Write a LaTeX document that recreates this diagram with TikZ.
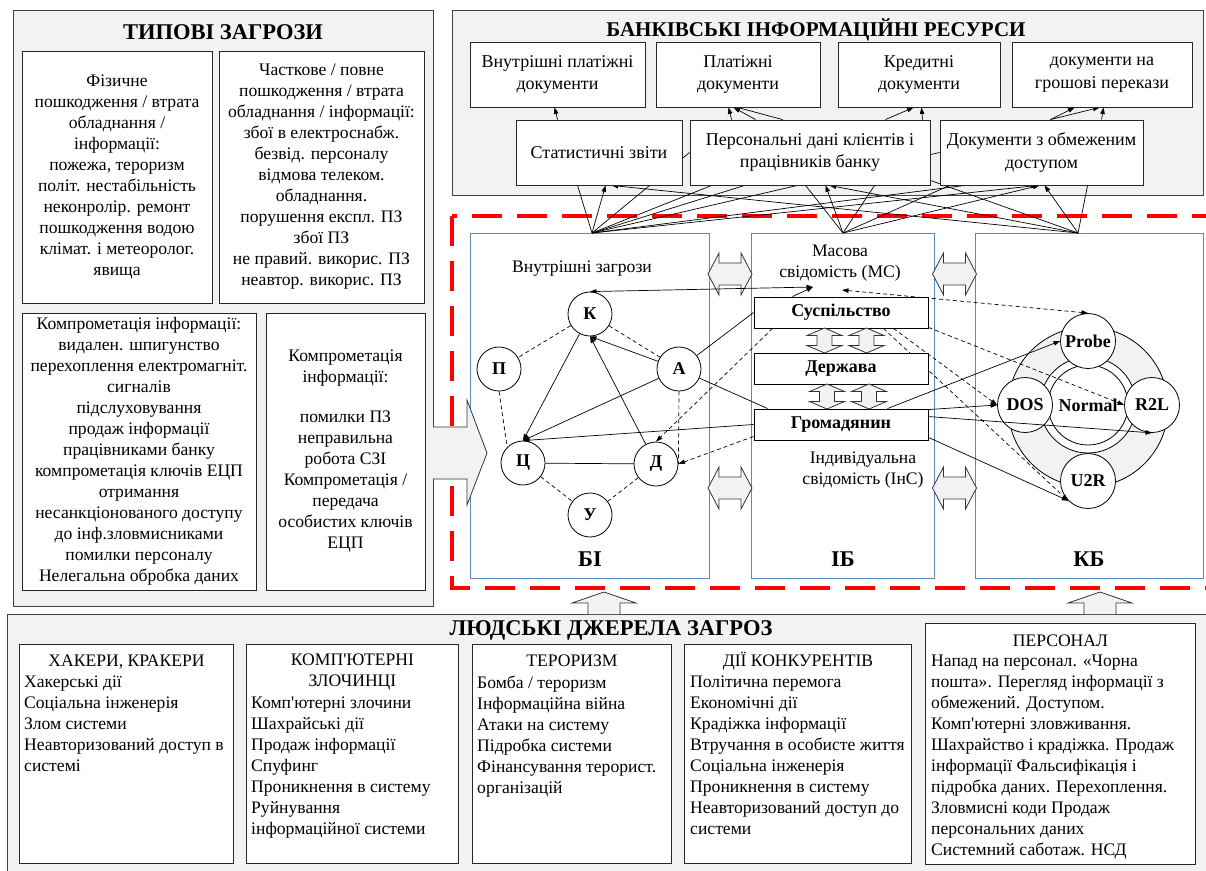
\documentclass[tikz,border=0pt]{standalone}
\usepackage{fontspec}
\setmainfont{Liberation Serif}[Ligatures=TeXOff]
\usetikzlibrary{arrows.meta}
\definecolor{bgray}{HTML}{F2F2F2}
\definecolor{pblue}{RGB}{95,135,185}
\newcommand{\txtf}{\fontsize{17.6}{21}\selectfont}
\newcommand{\topf}{\fontsize{18}{22.5}\selectfont}
\newcommand{\boldt}{\fontsize{22.5}{26}\selectfont\bfseries}
\newcommand{\boldr}{\fontsize{21}{26}\selectfont\bfseries}
\newcommand{\cirf}{\fontsize{18}{20}\selectfont\bfseries}
\pgfdeclarelayer{back}
\pgfdeclarelayer{conn}
\pgfsetlayers{back,conn,main}
\tikzset{
 graybox/.style={draw=black!75, fill=bgray, line width=1pt, inner sep=0pt},
 wbox/.style={draw=black!85, fill=white, line width=0.9pt, inner sep=0pt},
 panel/.style={draw=pblue, line width=0.9pt, inner sep=0pt},
 cnode/.style={circle, draw, fill=white, line width=0.8pt, minimum size=44pt, inner sep=0pt, font=\cirf},
 knode/.style={circle, draw, fill=white, line width=0.8pt, minimum size=55pt, inner sep=0pt, font=\cirf},
 ibbox/.style={draw, fill=white, line width=0.9pt, minimum width=174pt, minimum height=31pt, inner sep=0pt, font=\cirf},
 ln/.style={line width=0.7pt},
 arr/.style={line width=0.7pt, -{Triangle[length=6.5pt,width=4.5pt]}},
 dsh/.style={line width=0.7pt, dash pattern=on 4pt off 3pt},
 fatarr/.style={draw=black!80, fill=bgray, line width=0.8pt},
 hdbl/.pic={\draw[fatarr] (-22,0) -- (-11,-21) -- (-11,-11) -- (11,-11) -- (11,-21) -- (22,0) -- (11,21) -- (11,11) -- (-11,11) -- (-11,21) -- cycle;},
 vdbl/.pic={\draw[fatarr] (0,-12.5) -- (17.5,-5) -- (7.5,-5) -- (7.5,5) -- (17.5,5) -- (0,12.5) -- (-17.5,5) -- (-7.5,5) -- (-7.5,-5) -- (-17.5,-5) -- cycle;},
 uparr/.pic={\fill[bgray] (-16,22) -- (-16,11) -- (-32,11) -- (0,0) -- (32,11) -- (16,11) -- (16,22) -- cycle;
   \draw[black!80, line width=0.8pt] (-16,22) -- (-16,11) -- (-32,11) -- (0,0) -- (32,11) -- (16,11) -- (16,22);},
}
\begin{document}
\begin{tikzpicture}[x=1pt,y=-1pt]
\useasboundingbox (0,0) rectangle (1206,870);
\clip (0,0) rectangle (1206,870);

% ---------------- background layer ----------------
\begin{pgfonlayer}{back}
\node[graybox, minimum width=420, minimum height=596, anchor=north west] (tl) at (13,10) {};
\node[graybox, minimum width=751, minimum height=185, anchor=north west] (tr) at (452,10) {};
\node[graybox, minimum width=1215, minimum height=270, anchor=north west] (bt) at (7,614) {};
\pic at (604,592) {uparr};
\pic at (1100,592) {uparr};
\draw[red, line width=4pt, dash pattern=on 30pt off 15pt] (452,216) -- (452,588) -- (1230,588) -- (1230,216) -- cycle;
\node[panel, minimum width=239, minimum height=345, anchor=north west] (bi) at (470,233) {};
\node[panel, minimum width=183, minimum height=345, anchor=north west] (ibp) at (751,233) {};
\node[panel, minimum width=228, minimum height=345, anchor=north west] (kbp) at (975,233) {};
\pic at (730,274) {hdbl};
\pic at (730,488) {hdbl};
\pic at (954.5,274) {hdbl};
\pic at (954.5,488) {hdbl};
\draw[fatarr] (433,427) -- (467,427) -- (467,400) -- (487,453) -- (467,505) -- (467,479) -- (433,479);
\fill[bgray] (434,428) rectangle (467,478);
% ring
\node[circle, draw, fill=bgray, line width=0.8pt, minimum size=160pt, inner sep=0pt] (ring) at (1088,407) {};
\node[circle, draw, fill=white, line width=0.8pt, minimum size=96pt, inner sep=0pt] (ringin) at (1088,405) {};
\node[circle, draw, fill=white, line width=0.8pt, minimum size=80pt, inner sep=0pt, font=\cirf] (normal) at (1088,405) {Normal};
\node[knode] (probe) at (1088,341) {Probe};
\node[knode] (dos) at (1025,405) {DOS};
\node[knode] (r2l) at (1152,405) {R2L};
\node[knode] (u2r) at (1088,481) {U2R};
\end{pgfonlayer}

% ---------------- titles ----------------
\node[font=\boldt] (tt1) at (223,32) {ТИПОВІ ЗАГРОЗИ};
\node[font=\boldr] (tt2) at (816,30) {БАНКІВСЬКІ ІНФОРМАЦІЙНІ РЕСУРСИ};
\node[font=\boldt] (tt3) at (611,630) {ЛЮДСЬКІ ДЖЕРЕЛА ЗАГРОЗ};

% ---------------- typical threats ----------------
\node[wbox, minimum width=190, minimum height=252, align=center, font=\txtf] (f1) at (117,177)
 {Фізичне\\пошкодження / втрата\\обладнання /\\інформації:\\пожежа, тероризм\\політ. нестабільність\\неконролір. ремонт\\пошкодження водою\\клімат. і метеоролог.\\явища};
\node[wbox, minimum width=205, minimum height=252, align=center, font=\txtf] (f2) at (321.5,177)
 {Часткове / повне\\пошкодження / втрата\\обладнання / інформації:\\збої в електроснабж.\\безвід. персоналу\\відмова телеком.\\обладнання.\\порушення експл. ПЗ\\збої ПЗ\\не правий. викорис. ПЗ\\неавтор. викорис. ПЗ};
\node[wbox, minimum width=234, minimum height=277, align=center, font=\txtf] (f3) at (139,451.5)
 {Компрометація інформації:\\видален. шпигунство\\перехоплення електромагніт.\\сигналів\\підслуховування\\продаж інформації\\працівниками банку\\компрометація ключів ЕЦП\\отримання\\несанкціонованого доступу\\до інф.зловмисниками\\помилки персоналу\\Нелегальна обробка даних};
\node[wbox, minimum width=159, minimum height=277, align=center, font=\txtf] (f4) at (345.5,451.5)
 {Компрометація\\інформації:\\[19pt]помилки ПЗ\\неправильна\\робота СЗІ\\Компрометація /\\передача\\особистих ключів\\ЕЦП};

% ---------------- bank resources ----------------
\node[wbox, minimum width=175, minimum height=65, align=center, font=\topf] (t1) at (557.5,74.5) {Внутрішні платіжні\\документи};
\node[wbox, minimum width=164, minimum height=65, align=center, font=\topf] (t2) at (738,74.5) {Платіжні\\документи};
\node[wbox, minimum width=162, minimum height=65, align=center, font=\topf] (t3) at (919,74.5) {Кредитні\\документи};
\node[wbox, minimum width=180, minimum height=65, align=center, font=\topf] (t4) at (1102,74.5) {документи на\\грошові перекази};
\node[wbox, minimum width=166, minimum height=65, align=center, font=\topf] (s1) at (599,152.5) {Статистичні звіти};
\node[wbox, minimum width=240, minimum height=65, align=center, font=\topf] (s2) at (810,152.5) {Персональні дані клієнтів і\\працівників банку};
\node[wbox, minimum width=203, minimum height=65, align=center, font=\topf] (s3) at (1041.5,152.5) {Документи з обмеженим\\доступом};

% ---------------- panels content ----------------
\node[font=\txtf] (vz) at (582,269) {Внутрішні загрози};
\node[font=\txtf, align=center] (mst) at (840,263.5) {Масова\\свідомість (МС)};
\node[font=\txtf, align=center] (inst) at (863,470.5) {Індивідуальна\\свідомість (ІнС)};
\node[font=\boldt] (lbi) at (590,559) {БІ};
\node[font=\boldt] (lib) at (843,559) {ІБ};
\node[font=\boldt] (lkb) at (1089,559) {КБ};

\node[cnode] (k) at (590,314) {К};
\node[cnode] (p) at (499,369) {П};
\node[cnode] (a) at (679,369) {А};
\node[cnode] (c) at (523,463) {Ц};
\node[cnode] (d) at (656,464) {Д};
\node[cnode] (u) at (590,515) {У};

\node[ibbox] (susp) at (841,312.5) {Суспільство};
\node[ibbox] (derzh) at (841,368.5) {Держава};
\node[ibbox] (grom) at (841,424.5) {Громадянин};
\pic at (824.5,340.5) {vdbl};
\pic at (866.5,340.5) {vdbl};
\pic at (827,396.5) {vdbl};
\pic at (869,396.5) {vdbl};

% ---------------- human sources ----------------
\node[wbox, minimum width=214, minimum height=219, anchor=north west] (h1) at (19,644) {};
\node[wbox, minimum width=212, minimum height=219, anchor=north west] (h2) at (246,644) {};
\node[wbox, minimum width=199, minimum height=219, anchor=north west] (h3) at (472,644) {};
\node[wbox, minimum width=227, minimum height=219, anchor=north west] (h4) at (684,644) {};
\node[wbox, minimum width=270, minimum height=241, anchor=north west] (h5) at (925,623) {};

\node[font=\txtf, inner sep=0pt, anchor=base] (h1t) at ([yshift=-22pt]h1.north) {ХАКЕРИ, КРАКЕРИ};
\node[font=\txtf, inner sep=0pt, anchor=north west, align=left] (h1l) at ([xshift=5pt,yshift=-32pt]h1.north west)
 {Хакерські дії\\Соціальна інженерія\\Злом системи\\Неавторизований доступ в\\системі};
\node[font=\txtf, inner sep=0pt, anchor=north, align=center] (h2t) at ([yshift=-10pt]h2.north) {КОМП'ЮТЕРНІ\\ЗЛОЧИНЦІ};
\node[font=\txtf, inner sep=0pt, anchor=north west, align=left] (h2l) at ([xshift=5pt,yshift=-53pt]h2.north west)
 {Комп'ютерні злочини\\Шахрайські дії\\Продаж інформації\\Спуфинг\\Проникнення в систему\\Руйнування\\інформаційної системи};
\node[font=\txtf, inner sep=0pt, anchor=base] (h3t) at ([yshift=-22pt]h3.north) {ТЕРОРИЗМ};
\node[font=\txtf, inner sep=0pt, anchor=north west, align=left] (h3l) at ([xshift=5pt,yshift=-32pt]h3.north west)
 {Бомба / тероризм\\Інформаційна війна\\Атаки на систему\\Підробка системи\\Фінансування терорист.\\організацій};
\node[font=\txtf, inner sep=0pt, anchor=base] (h4t) at ([yshift=-22pt]h4.north) {ДІЇ КОНКУРЕНТІВ};
\node[font=\txtf, inner sep=0pt, anchor=north west, align=left] (h4l) at ([xshift=6pt,yshift=-32pt]h4.north west)
 {Політична перемога\\Економічні дії\\Крадіжка інформації\\Втручання в особисте життя\\Соціальна інженерія\\Проникнення в систему\\Неавторизований доступ до\\системи};
\node[font=\txtf, inner sep=0pt, anchor=base] (h5t) at ([yshift=-23pt]h5.north) {ПЕРСОНАЛ};
\node[font=\txtf, inner sep=0pt, anchor=north west, align=left] (h5l) at ([xshift=6pt,yshift=-32pt]h5.north west)
 {Напад на персонал. «Чорна\\пошта». Перегляд інформації з\\обмежений. Доступом.\\Комп'ютерні зловживання.\\Шахрайство і крадіжка. Продаж\\інформації Фальсифікація і\\підробка даних. Перехоплення.\\Зловмисні коди Продаж\\персональних даних\\Системний саботаж. НСД};

% ---------------- connectors ----------------
\begin{pgfonlayer}{conn}
\coordinate (a1) at (592,233);
\coordinate (a2) at (843,233);
\coordinate (a3) at (1078,233);
\coordinate (ms) at (813,287);
\coordinate (ms2) at (842,290);
% between rows
\draw[arr] ([xshift=42pt]s1.north west) -- ([xshift=85pt]t1.south west);
\draw[arr] ([xshift=42pt]s2.north west) -- ([xshift=73pt]t2.south west);
\draw[arr] ([xshift=66pt]s2.north west) -- ([xshift=78pt]t2.south west);
\draw[ln]  ([xshift=93pt]s2.north west) -- ([xshift=82pt]t2.south west);
\draw[arr] ([xshift=196pt]s2.north west) -- ([xshift=76pt]t3.south west);
\draw[arr] ([xshift=233pt]s2.north west) -- ([xshift=84pt]t3.south west);
\draw[arr] ([xshift=111pt]s3.north west) -- ([xshift=63pt]t4.south west);
\draw[arr] ([xshift=111pt]s3.north west) -- ([xshift=88pt]t4.south west);
\draw[arr] ([xshift=162pt]s3.north west) -- ([xshift=92pt]t4.south west);
% from the panels to the resources
\draw[ln]  (a1) -- ([xshift=62pt]s1.south west);
\draw[arr] (a1) -- ([xshift=90pt]s1.south west);
\draw[ln]  (a1) -- (s2.west);
\draw[ln]  (a1) -- ([xshift=22pt]s2.south west);
\draw[ln]  (a1) -- ([xshift=55pt]s2.south west);
\draw[ln]  (a1) -- (s3.west);
\draw[ln]  (a1) -- ([xshift=25pt]s3.south west);
\draw[arr] (a1) -- ([xshift=98pt]s3.south west);
\draw[ln]  (a2) -- ([xshift=116pt]s2.south west);
\draw[arr] (a2) -- ([xshift=136pt]s2.south west);
\draw[ln]  (a2) -- ([xshift=185pt]s2.south west);
\draw[ln]  (a2) -- ([xshift=10pt]s3.south west);
\draw[arr] (a2) -- ([xshift=100pt]s3.south west);
\draw[arr] (a3) -- ([xshift=96pt]s1.south west);
\draw[arr] (a3) -- ([xshift=140pt]s2.south west);
\draw[ln]  (a3) -- ([yshift=5pt]s2.south east);
\draw[arr] (a3) -- ([xshift=105pt]s3.south west);
\draw[ln]  (a3) -- ([xshift=148pt]s3.south west);
% internal threats graph
\draw[dsh] (k) -- (p);
\draw[dsh] (k) -- (a);
\draw[dsh] (p.south) -- (c.north west);
\draw[dsh] (a.south) -- (d.east);
\draw[dsh] (c) -- (u);
\draw[dsh] (d) -- (u);
\draw[ln] (c) -- (d);
\draw[arr] (k) -- (c.north);
\draw[arr] (a) -- (c.north);
\draw[arr] (a) -- (k.south);
\draw[arr] (d) -- (k.south);
\draw[arr] (grom.west) -- (c.north);
\draw[ln] (susp.west) -- (a);
\draw[ln] (a) -- ([xshift=14pt]grom.north west);
\draw[arr, dsh] ([xshift=19pt]susp.south west) -- (d.north);
\draw[arr, dsh] ([yshift=4pt]grom.south west) -- (d.east);
% consciousness
\draw[ln, {Triangle[length=6.5pt,width=4.5pt]}-{Triangle[length=6.5pt,width=4.5pt]}] (k.north) -- (ms);
\draw[arr] ([xshift=39pt]susp.north west) -- (ms);
\draw[dsh, {Triangle[length=6.5pt,width=4.5pt]}-{Triangle[length=6.5pt,width=4.5pt]}] (ms2) -- (probe.north);
% to cyber security
\draw[arr] ([xshift=-41pt]grom.north east) -- (probe.west);
\draw[arr] ([yshift=-1pt]grom.north east) -- (dos.west);
\draw[arr] ([yshift=-8pt]grom.north east) -- (r2l.south);
\draw[arr] ([yshift=3pt]grom.south east) -- (u2r.south west);
\draw[arr, dsh] ([yshift=1pt]susp.south east) -- (r2l.west);
\draw[arr, dsh] ([xshift=-35pt]susp.south east) -- (dos.west);
\draw[arr, dsh] ([xshift=-45pt]susp.south east) -- (u2r.south west);
\end{pgfonlayer}
\end{tikzpicture}
\end{document}
